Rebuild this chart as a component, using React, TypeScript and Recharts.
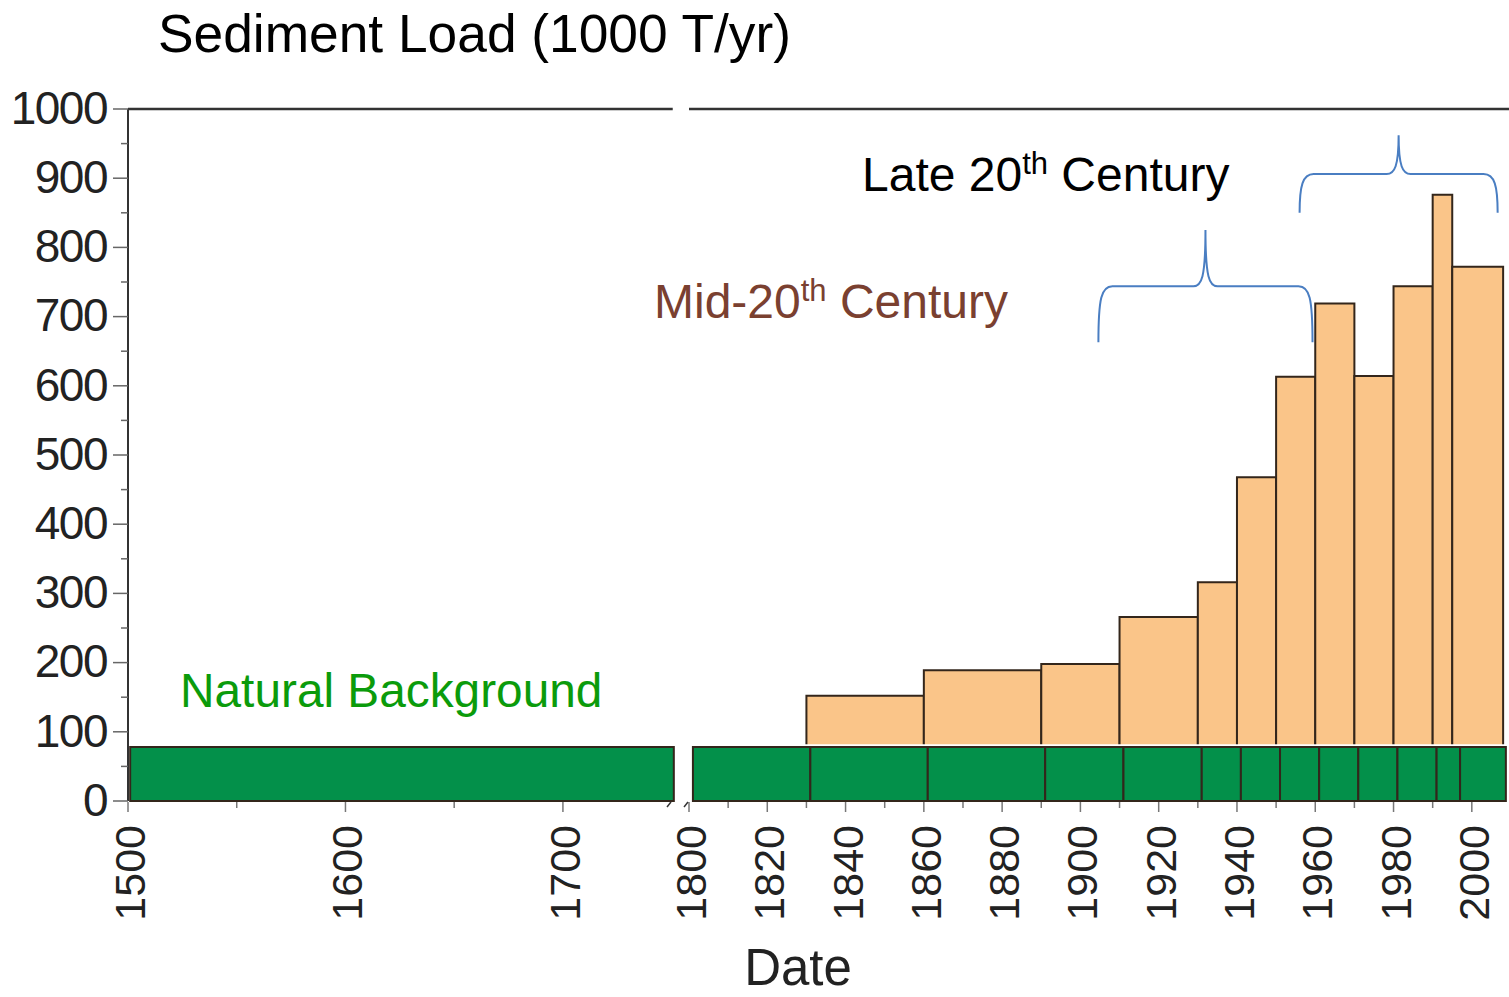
import React from "react"
import { ComposedChart, XAxis, YAxis, ReferenceArea, ReferenceLine, Line } from "recharts"

const FONT = '"Liberation Sans", Arial, Helvetica, sans-serif'

// orange bars: period edges (year) and sediment load (1000 T/yr)
const loadEdges = [1830, 1860, 1890, 1910, 1930, 1940, 1950, 1960, 1970, 1980, 1990, 1995, 2008]
const loadValues = [152, 189, 198, 266, 316, 468, 613, 719, 614, 744, 876, 772]

// green "natural background" band
const backgroundLevel = 78
const backgroundLeft = [1501, 1751]
const backgroundEdges = [1801, 1831, 1861, 1891, 1911, 1931, 1941, 1951, 1961, 1971, 1981, 1991, 1997, 2008.7]

// braces: [fromYear, toYear, low, high]
const midBrace = [1904.6, 1959.3, 663, 825]
const lateBrace = [1956, 2006.6, 850, 962]

const yTicks = [0, 50, 100, 150, 200, 250, 300, 350, 400, 450, 500, 550, 600, 650, 700, 750, 800, 850, 900, 950, 1000]
const leftTicks = [1500, 1550, 1600, 1650, 1700]
const rightTicks = [1800, 1810, 1820, 1830, 1840, 1850, 1860, 1870, 1880, 1890, 1900, 1910, 1920, 1930, 1940, 1950, 1960, 1970, 1980, 1990, 2000]

const ORANGE = "#fac589"
const GREEN = "#03904a"
const EDGE = "#33261b"
const BLUE = "#4a7ec2"

function YTick({ x, y, payload }: any) {
  const major = payload.value % 100 === 0
  return (
    <g>
      <line x1={x + 6 + (major ? 0 : 8)} x2={x + 21} y1={y} y2={y} stroke="#666" strokeWidth={1.5} />
      {major && (
        <text x={x} y={y} dy="0.32em" textAnchor="end" fontSize={46} letterSpacing={-1.5} fill="#222" fontFamily={FONT}>
          {payload.value}
        </text>
      )}
    </g>
  )
}

function makeXTick(step: number) {
  return function XTick({ x, y, payload }: any) {
    const major = payload.value % step === 0
    const top = y - 24
    return (
      <g>
        <line x1={x} x2={x} y1={top + 1} y2={top + (major ? 11 : 7)} stroke="#777" strokeWidth={1.5} />
        {major && (
          <text
            x={x + 2}
            y={y}
            transform={`rotate(-90 ${x + 2} ${y})`}
            textAnchor="end"
            dominantBaseline="central"
            fontSize={43}
            fill="#222"
            fontFamily={FONT}
          >
            {payload.value}
          </text>
        )}
      </g>
    )
  }
}

function Brace(props: any) {
  const { x, y, width: w, height: h } = props
  const cx = x + w / 2
  const m = y + h * 0.5
  const d = [
    `M ${x} ${y + h}`,
    `C ${x} ${m + 12} ${x + 3} ${m} ${x + 14} ${m}`,
    `L ${cx - 12} ${m}`,
    `C ${cx - 4} ${m} ${cx} ${m - 8} ${cx} ${y}`,
    `C ${cx} ${m - 8} ${cx + 4} ${m} ${cx + 12} ${m}`,
    `L ${x + w - 14} ${m}`,
    `C ${x + w - 3} ${m} ${x + w} ${m + 12} ${x + w} ${y + h}`,
  ].join(" ")
  return <path d={d} fill="none" stroke={BLUE} strokeWidth={2} />
}

const LeftXTick = makeXTick(100)
const RightXTick = makeXTick(20)

export default function App() {
  const bars = loadValues.map((v, i) => ({ from: loadEdges[i], to: loadEdges[i + 1], value: v }))
  const band = backgroundEdges.slice(0, -1).map((e, i) => ({ from: e, to: backgroundEdges[i + 1] }))
  const leftData = [
    { from: backgroundLeft[0], value: backgroundLevel },
    { from: backgroundLeft[1], value: backgroundLevel },
  ]

  return (
    <div style={{ position: "absolute", left: 0, top: 0, width: 1509, height: 997, background: "#fff", fontFamily: FONT }}>
      <div style={{ position: "absolute", left: 0, top: 0 }}>
        <ComposedChart width={690} height={997} data={leftData} margin={{ top: 109, right: 14, bottom: 76, left: 0 }}>
          <XAxis
            type="number"
            dataKey="from"
            domain={[1500, 1752]}
            allowDataOverflow
            ticks={leftTicks}
            interval={0}
            height={120}
            axisLine={false}
            tickLine={false}
            tickSize={10}
            tickMargin={14}
            tick={<LeftXTick />}
          />
          <YAxis
            type="number"
            domain={[0, 1000]}
            allowDataOverflow
            ticks={yTicks}
            interval={0}
            width={128}
            tickLine={false}
            tickSize={15}
            tickMargin={6}
            axisLine={{ stroke: "#333", strokeWidth: 2 }}
            tick={<YTick />}
          />
          <Line dataKey="value" stroke="none" dot={false} activeDot={false} isAnimationActive={false} />
          <ReferenceLine
            segment={[{ x: 1500, y: 1000 }, { x: 1750.5, y: 1000 }]}
            stroke="#333"
            strokeWidth={2.5}
          />
          <ReferenceArea
            x1={backgroundLeft[0]}
            x2={backgroundLeft[1]}
            y1={0}
            y2={backgroundLevel}
            fill={GREEN}
            fillOpacity={1}
            stroke={EDGE}
            strokeWidth={2}
          />
        </ComposedChart>
      </div>

      <div style={{ position: "absolute", left: 640, top: 0 }}>
        <ComposedChart width={869} height={997} data={bars} margin={{ top: 109, right: 0, bottom: 76, left: 49 }}>
          <XAxis
            type="number"
            dataKey="from"
            domain={[1800, 2009.5]}
            allowDataOverflow
            ticks={rightTicks}
            interval={0}
            height={120}
            axisLine={false}
            tickLine={false}
            tickSize={10}
            tickMargin={14}
            tick={<RightXTick />}
          />
          <YAxis hide type="number" domain={[0, 1000]} allowDataOverflow />
          <Line dataKey="value" stroke="none" dot={false} activeDot={false} isAnimationActive={false} />
          <ReferenceLine
            segment={[{ x: 1800, y: 1000 }, { x: 2009.5, y: 1000 }]}
            ifOverflow="visible"
            stroke="#333"
            strokeWidth={2.5}
          />
          {bars.map((b) => (
            <ReferenceArea
              key={`bar-${b.from}`}
              x1={b.from}
              x2={b.to}
              y1={0}
              y2={b.value}
              fill={ORANGE}
              fillOpacity={1}
              stroke={EDGE}
              strokeWidth={2}
            />
          ))}
          <ReferenceArea x1={1800} x2={2009.5} y1={0} y2={82} fill="#fff" fillOpacity={1} stroke="none" />
          {band.map((b) => (
            <ReferenceArea
              key={`bg-${b.from}`}
              x1={b.from}
              x2={b.to}
              y1={0}
              y2={backgroundLevel}
              fill={GREEN}
              fillOpacity={1}
              stroke={EDGE}
              strokeWidth={2}
            />
          ))}
          <ReferenceArea x1={midBrace[0]} x2={midBrace[1]} y1={midBrace[2]} y2={midBrace[3]} shape={<Brace />} />
          <ReferenceArea x1={lateBrace[0]} x2={lateBrace[1]} y1={lateBrace[2]} y2={lateBrace[3]} shape={<Brace />} />
        </ComposedChart>
      </div>

      <svg
        width={1509}
        height={997}
        style={{ position: "absolute", left: 0, top: 0, pointerEvents: "none" }}
        fontFamily={FONT}
      >
        <text x={158} y={52} fontSize={53.3} fill="#000">
          Sediment Load (1000 T/yr)
        </text>
        <text x={862} y={191} fontSize={48} fill="#000">
          Late 20
          <tspan fontSize={31} dy={-17}>th</tspan>
          <tspan dy={17}> Century</tspan>
        </text>
        <text x={654} y={318} fontSize={48} fill="#7a4030">
          Mid-20
          <tspan fontSize={31} dy={-17}>th</tspan>
          <tspan dy={17}> Century</tspan>
        </text>
        <text x={180} y={707} fontSize={47.8} fill="#0b9b0b">
          Natural Background
        </text>
        <text x={798} y={985} fontSize={51} fill="#222" textAnchor="middle">
          Date
        </text>
        <line x1={667} y1={807} x2={671} y2={802} stroke="#333" strokeWidth={1.5} />
        <line x1={684} y1={807} x2={688} y2={802} stroke="#333" strokeWidth={1.5} />
      </svg>
    </div>
  )
}
